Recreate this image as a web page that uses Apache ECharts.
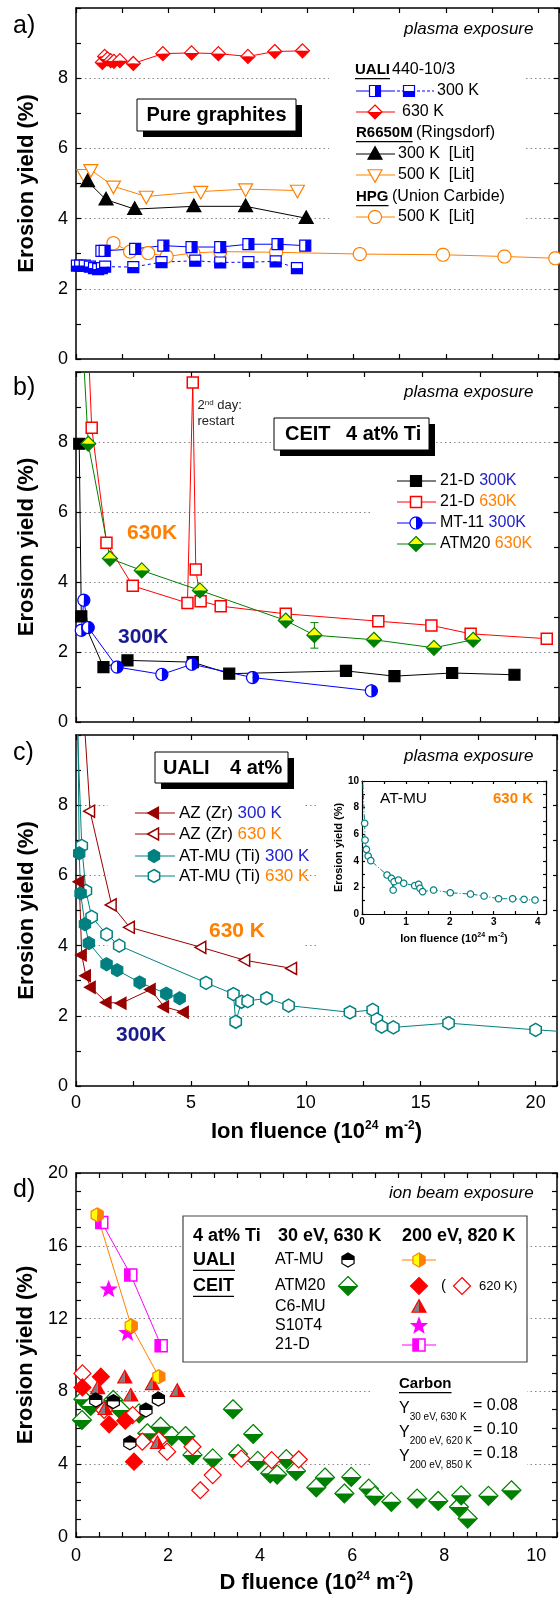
<!DOCTYPE html>
<html>
<head>
<meta charset="utf-8">
<script src="https://cdn.jsdelivr.net/npm/echarts@6/dist/echarts.min.js"></script>
<style>
  html, body { margin: 0; padding: 0; background: #fff; }
  #chart { width: 560px; height: 1598px; }
</style>
</head>
<body>
<div id="chart"></div>
<script>
// ---------- data (x = fluence, y = erosion yield %) ----------
// a) pure graphites
const aUali300Upper = [[0.55,3.08],[0.62,3.08],[1.28,3.14],[1.89,3.23],[2.50,3.19],[3.12,3.19],[3.73,3.27],[4.36,3.27],[4.96,3.23]];
const aUali300Lower = [[0.02,2.66],[0.09,2.66],[0.19,2.66],[0.30,2.63],[0.39,2.59],[0.48,2.56],[0.56,2.59],[0.63,2.63],[1.24,2.62],[1.85,2.76],[2.58,2.80],[3.12,2.75],[3.73,2.76],[4.32,2.78],[4.78,2.59]];
const aUali630 = [[0.57,8.45],[0.62,8.62],[0.68,8.55],[0.75,8.50],[0.82,8.48],[0.95,8.50],[1.24,8.42],[1.88,8.70],[2.50,8.72],[3.08,8.70],[3.72,8.62],[4.30,8.76],[4.90,8.78]];
const aR6650m300 = [[0.25,5.06],[0.65,4.54],[1.27,4.27],[2.55,4.35],[3.67,4.35],[4.98,4.01]];
const aR6650m500 = [[0.17,5.25],[0.32,5.39],[0.81,4.92],[1.52,4.63],[2.70,4.77],[3.67,4.84],[4.79,4.80]];
const aHpg500 = [[0.81,3.30],[1.17,3.06],[1.56,3.02],[1.96,2.92],[2.54,3.02],[3.12,3.06],[4.33,3.04],[6.14,2.99],[7.94,2.97],[9.27,2.92],[10.37,2.87]];

// b) CEIT 4 at% Ti
const b21d300 = [[0.14,7.95],[0.23,3.02],[1.19,1.57],[2.23,1.76],[5.06,1.71],[6.64,1.38],[11.7,1.46],[13.8,1.31],[16.3,1.40],[19.0,1.35]];
const b21d630 = [[0.55,10.5],[0.68,8.41],[1.32,5.12],[2.46,3.89],[4.83,3.40],[5.06,9.70],[5.19,4.36],[5.40,3.45],[6.27,3.31],[9.09,3.09],[13.1,2.88],[15.4,2.76],[17.1,2.52],[20.4,2.38]];
const bMt11300 = [[0.23,2.62],[0.34,3.48],[0.53,2.70],[1.78,1.57],[3.72,1.36],[5.02,1.65],[7.65,1.27],[12.8,0.89]];
const bAtm20630 = [[0.32,10.5],[0.53,7.95],[1.47,4.67],[2.85,4.33],[5.37,3.76],[9.09,2.90],[10.33,2.48],[12.91,2.35],[15.51,2.12],[17.21,2.35]];
const bAtm20Err = [[10.33,2.11,2.84]];

// c) UALI 4 at%
const cAz300 = [[0.14,5.82],[0.25,3.73],[0.43,3.14],[0.64,2.81],[1.33,2.38],[1.98,2.36],[3.25,2.75],[3.83,2.26],[4.69,2.10]];
const cAz630 = [[0.36,10.4],[0.61,7.83],[1.55,5.16],[2.34,4.52],[5.45,3.95],[7.36,3.58],[9.40,3.35]];
const cAtmu300 = [[0.08,10.4],[0.14,6.63],[0.20,5.49],[0.39,4.61],[0.56,4.07],[1.33,3.47],[1.79,3.30],[2.77,2.95],[3.93,2.63],[4.51,2.50]];
const cAtmu630 = [[0.05,10.4],[0.25,6.84],[0.43,5.56],[0.68,4.82],[1.33,4.32],[1.88,4.00],[5.66,2.94],[6.85,2.62],[6.95,1.83],[7.20,2.40],[7.47,2.42],[8.29,2.50],[9.25,2.29],[11.92,2.10],[12.91,2.17],[13.09,1.90],[13.30,1.69],[13.81,1.67],[16.21,1.79],[20.0,1.60],[21.2,1.55]];
// c) inset AT-MU 630 K
const insetAtmu = [[0.01,10.5],[0.06,6.82],[0.07,5.56],[0.10,4.86],[0.14,4.36],[0.20,4.01],[0.57,2.93],[0.67,2.68],[0.71,1.80],[0.73,2.43],[0.83,2.56],[0.95,2.31],[1.20,2.13],[1.29,2.23],[1.32,1.93],[1.38,1.68],[1.63,1.80],[2.01,1.60],[2.47,1.50],[2.78,1.35],[3.11,1.15],[3.43,1.15],[3.69,1.10],[3.94,1.05]];

// d) ion beam exposure
const dAtmu30 = [[0.43,7.53],[0.81,7.44],[1.17,5.18],[1.52,6.98],[1.79,7.58]];
const dAtmu200 = [[0.46,17.7],[1.20,11.6],[1.80,8.81]];
const d21d200 = [[0.56,17.28],[1.19,14.4],[1.85,10.51]];
const dS10t4 = [[0.71,13.6],[1.12,11.2]];
const dAtm20_30 = [[0.13,6.43],[0.16,7.57],[0.32,7.20],[0.81,7.53],[0.97,6.98],[1.37,6.79],[1.55,5.70],[1.84,6.06],[2.08,5.55],[2.38,5.55],[2.53,4.51],[2.97,4.32],[3.41,7.02],[3.52,4.56],[3.85,5.66],[3.95,4.18],[4.22,3.50],[4.37,3.43],[4.57,4.28],[4.78,3.63],[5.22,2.72],[5.41,3.27],[5.83,2.39],[5.98,3.30],[6.36,2.66],[6.49,2.26],[6.85,1.93],[7.41,2.11],[7.87,1.98],[8.32,1.65],[8.37,2.29],[8.51,1.01],[8.96,2.26],[9.46,2.57]];
const dAtm20_200 = [[0.14,8.22],[0.54,8.81],[0.72,6.19],[1.07,6.39],[1.26,4.14]];
const dAtm20_620 = [[0.14,8.99],[0.61,6.98],[1.23,6.70],[1.44,5.24],[1.80,5.33],[1.98,4.69],[2.53,4.96],[2.70,2.57],[2.97,3.40],[3.59,4.31],[4.25,4.22],[4.84,4.26]];
const dC6mu = [[0.47,8.17],[0.63,7.02],[1.06,8.75],[1.19,7.76],[1.66,8.39],[1.77,5.15],[2.20,8.02]];
const carbonYields = ['0.08', '0.10', '0.18'];

// ---------- helpers ----------
const FAM = "'Liberation Sans', Arial, sans-serif";
const C = {
  blue: '#0000ff', red: '#ff0000', orange: '#ff8000', green: '#008000', yellow: '#ffff00',
  dred: '#990000', teal: '#008080', mag: '#ff00ff', gray: '#808080', navy: '#1a1a90', lblue: '#2222cc'
};

function shapePts(shape, r) {
  const pts = [];
  if (shape === 'square') return [[-r,-r],[r,-r],[r,r],[-r,r]];
  if (shape === 'diamond') return [[0,-r],[r,0],[0,r],[-r,0]];
  if (shape === 'triUp') return [[0,-r*1.05],[r,r*0.75],[-r,r*0.75]];
  if (shape === 'triDown') return [[0,r*1.05],[r,-r*0.75],[-r,-r*0.75]];
  if (shape === 'triLeft') return [[-r*1.05,0],[r*0.75,-r],[r*0.75,r]];
  if (shape === 'hex') {
    for (let k = 0; k < 6; k++) { const a = (-90 + 60 * k) * Math.PI / 180; pts.push([r * Math.cos(a), r * Math.sin(a)]); }
    return pts;
  }
  if (shape === 'star') {
    for (let k = 0; k < 10; k++) { const a = (-90 + 36 * k) * Math.PI / 180; const rr = k % 2 ? r * 0.42 : r; pts.push([rr * Math.cos(a), rr * Math.sin(a)]); }
    return pts;
  }
  for (let k = 0; k < 36; k++) { const a = k * 10 * Math.PI / 180; pts.push([r * Math.cos(a), r * Math.sin(a)]); }
  return pts;
}

// keep one half of a polygon (Sutherland-Hodgman against x=0 or y=0)
function clipHalf(pts, side) {
  const f = {top: p => -p[1], bottom: p => p[1], left: p => -p[0], right: p => p[0]}[side];
  const out = [];
  for (let i = 0; i < pts.length; i++) {
    const a = pts[i], b = pts[(i + 1) % pts.length];
    const fa = f(a), fb = f(b);
    if (fa >= 0) out.push(a);
    if ((fa >= 0) !== (fb >= 0)) {
      const t = fa / (fa - fb);
      out.push([a[0] + t * (b[0] - a[0]), a[1] + t * (b[1] - a[1])]);
    }
  }
  return out;
}

function markerEls(s, cx, cy) {
  const base = shapePts(s.shape, s.r);
  const tr = pts => pts.map(p => [cx + p[0], cy + p[1]]);
  const els = [];
  if (s.split) {
    const sides = s.split === 'tb' ? ['top', 'bottom'] : ['left', 'right'];
    els.push({type: 'polygon', shape: {points: tr(clipHalf(base, sides[0]))}, style: {fill: s.fill[0], stroke: 'none'}});
    els.push({type: 'polygon', shape: {points: tr(clipHalf(base, sides[1]))}, style: {fill: s.fill[1], stroke: 'none'}});
    els.push({type: 'polygon', shape: {points: tr(base)}, style: {fill: 'none', stroke: s.stroke, lineWidth: s.lw || 1.2}});
  } else {
    els.push({type: 'polygon', shape: {points: tr(base)}, style: {fill: s.fill[0], stroke: s.stroke, lineWidth: s.lw || 1.2}});
  }
  return els;
}

// marker styles
const M = {
  aUpper: {shape: 'square', r: 5.5, stroke: C.blue, fill: ['#fff', C.blue], split: 'lr'},
  aLower: {shape: 'square', r: 5.5, stroke: C.blue, fill: ['#fff', C.blue], split: 'tb'},
  a630: {shape: 'diamond', r: 7, stroke: C.red, fill: ['#fff', C.red], split: 'tb'},
  aR300: {shape: 'triUp', r: 7, stroke: '#000', fill: ['#000']},
  aR500: {shape: 'triDown', r: 7, stroke: C.orange, fill: ['#fff']},
  aHpg: {shape: 'circle', r: 6.5, stroke: C.orange, fill: ['#fff']},
  b21d300: {shape: 'square', r: 5.5, stroke: '#000', fill: ['#000']},
  b21d630: {shape: 'square', r: 5.5, stroke: C.red, fill: ['#fff'], lw: 1.5},
  bMt11: {shape: 'circle', r: 6, stroke: C.blue, fill: ['#fff', C.blue], split: 'lr'},
  bAtm20: {shape: 'diamond', r: 7.5, stroke: C.green, fill: [C.yellow, C.green], split: 'tb'},
  cAz300: {shape: 'triLeft', r: 6, stroke: C.dred, fill: [C.dred]},
  cAz630: {shape: 'triLeft', r: 6, stroke: C.dred, fill: ['#fff'], lw: 1.5},
  cAtmu300: {shape: 'hex', r: 6.5, stroke: C.teal, fill: [C.teal]},
  cAtmu630: {shape: 'hex', r: 6.5, stroke: C.teal, fill: ['#fff'], lw: 1.5},
  inset: {shape: 'circle', r: 3.2, stroke: C.teal, fill: ['#fff']},
  dAtmu30: {shape: 'hex', r: 7, stroke: '#000', fill: ['#000', '#fff'], split: 'tb'},
  dAtmu200: {shape: 'hex', r: 7, stroke: C.orange, fill: [C.yellow, C.orange], split: 'lr'},
  d21d: {shape: 'square', r: 6, stroke: C.mag, fill: [C.mag, '#fff'], split: 'lr', lw: 1.5},
  dS10: {shape: 'star', r: 8, stroke: C.mag, fill: [C.mag]},
  dAtm20_30: {shape: 'diamond', r: 9.5, stroke: C.green, fill: ['#fff', C.green], split: 'tb'},
  dAtm20_200: {shape: 'diamond', r: 8.5, stroke: C.red, fill: [C.red]},
  dAtm20_620: {shape: 'diamond', r: 8.5, stroke: C.red, fill: ['#fff']},
  dC6: {shape: 'triUp', r: 7, stroke: C.red, fill: [C.gray, C.red], split: 'lr'}
};

// ---------- axes ----------
const grids = [
  {left: 76, top: 8, width: 483, height: 351},     // a
  {left: 76, top: 372, width: 483, height: 350},   // b
  {left: 76, top: 735, width: 483, height: 351},   // c
  {left: 362, top: 781, width: 184, height: 133},  // c inset
  {left: 76, top: 1173, width: 483, height: 364}   // d
];
const xAxes = [], yAxes = [];

function fmt(step, maxShown) {
  return function (v) {
    const r = v / step;
    if (Math.abs(r - Math.round(r)) > 1e-6 || v > maxShown + 1e-6) return '';
    return String(Math.round(v * 1000) / 1000);
  };
}

const bigName = {
  fontSize: 22, fontWeight: 'bold', fontFamily: FAM, color: '#000', lineHeight: 24,
  rich: {sup: {fontSize: 12, fontWeight: 'bold', fontFamily: FAM, color: '#000', verticalAlign: 'top'}}
};

function panelAxes(g, o) {
  const line = {show: true, onZero: false, lineStyle: {color: '#000', width: o.axisW || 1.5}};
  const tick = {show: true, inside: true, length: o.tickLen || 5, lineStyle: {color: '#000', width: 1.2}};
  const lab = (step, shown, margin) => ({formatter: fmt(step, shown), fontSize: o.fs || 18, fontWeight: o.fw || 'normal',
    fontFamily: FAM, color: '#000', margin: margin});
  const z = o.z || 0;
  const xi = xAxes.length, yi = yAxes.length;
  xAxes.push({gridIndex: g, type: 'value', position: 'bottom', min: 0, max: o.xmax, interval: o.xint, z: z,
    axisLine: line, axisTick: tick, splitLine: {show: false},
    axisLabel: o.xstep ? lab(o.xstep, o.xshow, o.xmargin || 8) : {show: false},
    name: o.xname || '', nameLocation: 'middle', nameGap: o.xgap || 34, nameTextStyle: o.xnameStyle || bigName});
  xAxes.push({gridIndex: g, type: 'value', position: 'top', min: 0, max: o.xmax, interval: o.xint, z: z,
    axisLine: line, axisTick: tick, splitLine: {show: false}, axisLabel: {show: false}});
  yAxes.push({gridIndex: g, type: 'value', position: 'left', min: 0, max: o.ymax, interval: o.yint, z: z,
    axisLine: line, axisTick: tick, splitLine: {show: false},
    axisLabel: lab(o.ystep, o.yshow, o.ymargin || 8),
    name: o.yname || 'Erosion yield (%)', nameLocation: 'middle', nameGap: o.ygap || 38,
    nameTextStyle: o.ynameStyle || {fontSize: 22, fontWeight: 'bold', fontFamily: FAM, color: '#000'}});
  yAxes.push({gridIndex: g, type: 'value', position: 'right', min: 0, max: o.ymax, interval: o.yint, z: z,
    axisLine: line, axisTick: tick, splitLine: {show: false}, axisLabel: {show: false}});
  if (o.gridStep) {
    yAxes.push({gridIndex: g, type: 'value', position: 'left', min: 0, max: o.ymax, interval: o.gridStep, z: 0,
      axisLine: {show: false}, axisTick: {show: false}, axisLabel: {show: false},
      splitLine: {show: true, showMinLine: false, showMaxLine: false, lineStyle: {color: '#8a8a8a', width: 1, type: [1.5, 3]}}});
  }
  return {xi: xi, yi: yi, xmax: o.xmax, ymax: o.ymax};
}

const axA = panelAxes(0, {xmax: 10.45, xint: 1, ymax: 10, yint: 1, ystep: 2, yshow: 9, gridStep: 2});
const axB = panelAxes(1, {xmax: 20.93, xint: 2.5, ymax: 10, yint: 1, ystep: 2, yshow: 9, gridStep: 2});
const axC = panelAxes(2, {xmax: 20.93, xint: 2.5, xstep: 5, xshow: 20, ymax: 10, yint: 1, ystep: 2, yshow: 9, gridStep: 2,
  xname: 'Ion fluence (10{sup|24} m{sup|-2})', xgap: 34});
const axI = panelAxes(3, {xmax: 4.19, xint: 0.5, xstep: 1, xshow: 4, ymax: 10, yint: 1, ystep: 2, yshow: 10,
  fs: 10, fw: 'bold', tickLen: 3, axisW: 1.2, z: 2, xmargin: 3, ymargin: 3,
  xname: 'Ion fluence (10{sup|24} m{sup|-2})', xgap: 18,
  xnameStyle: {fontSize: 11, fontWeight: 'bold', fontFamily: FAM, color: '#000', lineHeight: 13,
    rich: {sup: {fontSize: 7, fontWeight: 'bold', fontFamily: FAM, color: '#000', verticalAlign: 'top'}}},
  ygap: 17, ynameStyle: {fontSize: 11, fontWeight: 'bold', fontFamily: FAM, color: '#000'}});
const axD = panelAxes(4, {xmax: 10.45, xint: 0.5, xstep: 2, xshow: 10, ymax: 20, yint: 1, ystep: 4, yshow: 20, gridStep: 4,
  xmargin: 10, xname: 'D fluence (10{sup|24} m{sup|-2})', xgap: 34});

// ---------- series ----------
const series = [];
function addLine(ax, data, color, type) {
  series.push({type: 'line', xAxisIndex: ax.xi, yAxisIndex: ax.yi, data: data, symbol: 'none', z: ax === axI ? 5 : 3,
    silent: true, animation: false, lineStyle: {color: color, width: 1, type: type || 'solid'}});
}
function addMarks(ax, data, spec) {
  series.push({type: 'custom', xAxisIndex: ax.xi, yAxisIndex: ax.yi, z: ax === axI ? 6 : 4, silent: true, animation: false,
    data: data, encode: {x: 0, y: 1},
    renderItem: function (params, api) {
      const x = api.value(0), y = api.value(1);
      if (x < 0 || x > ax.xmax || y < 0 || y > ax.ymax) return null;
      const p = api.coord([x, y]);
      return {type: 'group', children: markerEls(spec, p[0], p[1])};
    }});
}
function addSeries(ax, data, spec, color, type) {
  if (color) addLine(ax, data, color, type);
  addMarks(ax, data, spec);
}

// a
addSeries(axA, aHpg500, M.aHpg, C.orange);
addSeries(axA, aR6650m500, M.aR500, C.orange);
addSeries(axA, aR6650m300, M.aR300, '#000');
addSeries(axA, aUali300Lower, M.aLower, C.blue, [3, 3]);
addSeries(axA, aUali300Upper, M.aUpper, C.blue);
addSeries(axA, aUali630, M.a630, C.red);
// b
addSeries(axB, b21d300, M.b21d300, '#000');
addSeries(axB, b21d630, M.b21d630, C.red);
addSeries(axB, bMt11300, M.bMt11, C.blue);
series.push({type: 'custom', xAxisIndex: axB.xi, yAxisIndex: axB.yi, z: 3, silent: true, animation: false,
  data: bAtm20Err, encode: {x: 0, y: [1, 2]},
  renderItem: function (params, api) {
    const lo = api.coord([api.value(0), api.value(1)]), hi = api.coord([api.value(0), api.value(2)]);
    const st = {stroke: C.green, lineWidth: 1};
    return {type: 'group', children: [
      {type: 'line', shape: {x1: lo[0], y1: lo[1], x2: hi[0], y2: hi[1]}, style: st},
      {type: 'line', shape: {x1: lo[0] - 4, y1: lo[1], x2: lo[0] + 4, y2: lo[1]}, style: st},
      {type: 'line', shape: {x1: hi[0] - 4, y1: hi[1], x2: hi[0] + 4, y2: hi[1]}, style: st}
    ]};
  }});
addSeries(axB, bAtm20630, M.bAtm20, C.green);
// c
addSeries(axC, cAtmu630, M.cAtmu630, C.teal);
addSeries(axC, cAtmu300, M.cAtmu300, C.teal);
addSeries(axC, cAz630, M.cAz630, C.dred);
addSeries(axC, cAz300, M.cAz300, C.dred);
addSeries(axI, insetAtmu, M.inset, C.teal, [5, 2, 1, 2]);
// d
addMarks(axD, dAtm20_30, M.dAtm20_30);
addMarks(axD, dAtm20_620, M.dAtm20_620);
addMarks(axD, dAtm20_200, M.dAtm20_200);
addMarks(axD, dC6mu, M.dC6);
addMarks(axD, dAtmu30, M.dAtmu30);
addMarks(axD, dS10t4, M.dS10);
addSeries(axD, d21d200, M.d21d, C.mag);
addSeries(axD, dAtmu200, M.dAtmu200, C.orange);

// ---------- texts, legends, boxes ----------
const G = [];
const mctx = document.createElement('canvas').getContext('2d');
function tw(text, size, weight) {
  mctx.font = (weight || 'normal') + ' ' + size + 'px ' + FAM;
  return mctx.measureText(text).width;
}
function txt(x, y, text, o) {
  o = o || {};
  const st = {text: text, fontSize: o.size || 16, fontWeight: o.weight || 'normal', fontStyle: o.style || 'normal',
    fontFamily: FAM, fill: o.color || '#000', align: o.align || 'left', verticalAlign: 'middle',
    textAlign: o.align || 'left', textVerticalAlign: 'middle'};
  if (o.rich) st.rich = o.rich;
  G.push({type: 'text', x: x, y: y, z: 30, style: st});
}
function utxt(x, y, text, size) {
  txt(x, y, text, {size: size, weight: 'bold'});
  const w = tw(text, size, 'bold');
  G.push({type: 'line', z: 30, shape: {x1: x, y1: y + size * 0.58, x2: x + w, y2: y + size * 0.58}, style: {stroke: '#000', lineWidth: 1.3}});
}
function mask(x1, y1, x2, y2) {
  G.push({type: 'rect', z: 1, shape: {x: x1, y: y1, width: x2 - x1, height: y2 - y1}, style: {fill: '#fff'}});
}
function shadowBox(x1, y1, x2, y2) {
  G.push({type: 'rect', z: 20, shape: {x: x1 + 6, y: y1 + 6, width: x2 - x1, height: y2 - y1}, style: {fill: '#000'}});
  G.push({type: 'rect', z: 21, shape: {x: x1, y: y1, width: x2 - x1, height: y2 - y1}, style: {fill: '#fff', stroke: '#000', lineWidth: 1}});
}
function legLine(x1, x2, y, color, dash) {
  G.push({type: 'line', z: 30, shape: {x1: x1, y1: y, x2: x2, y2: y}, style: {stroke: color, lineWidth: 1, lineDash: dash || null}});
}
function legMark(spec, x, y) {
  markerEls(spec, x, y).forEach(e => { e.z = 31; G.push(e); });
}

// masks hiding the dotted grid behind legends
mask(329, 55, 525, 228);
mask(370, 465, 553, 556);
mask(108, 795, 304, 955);
mask(316, 745, 553, 955);
mask(373, 1368, 527, 1475);

// panel letters and exposure notes
[['a)', 26], ['b)', 388], ['c)', 753], ['d)', 1190]].forEach(p => txt(13, p[1], p[0], {size: 25}));
txt(404, 29, 'plasma exposure', {size: 17, style: 'italic'});
txt(404, 392, 'plasma exposure', {size: 17, style: 'italic'});
txt(404, 756, 'plasma exposure', {size: 17, style: 'italic'});
txt(389, 1193, 'ion beam exposure', {size: 17, style: 'italic'});

// a) box + legend
shadowBox(137, 99, 296, 131);
txt(216.5, 115, 'Pure graphites', {size: 20, weight: 'bold', align: 'center'});
utxt(355, 70, 'UALI', 15);
txt(392, 70, '440-10/3', {size: 16});
legLine(356, 392, 91, C.blue);
legLine(392, 434, 91, C.blue, [3, 2]);
legMark(M.aUpper, 375, 91);
legMark(M.aLower, 409, 91);
txt(437, 91, '300 K', {size: 16});
legLine(356, 395, 112, C.red);
legMark(M.a630, 375, 112);
txt(402, 112, '630 K', {size: 16});
utxt(356, 133, 'R6650M', 15);
txt(416, 133, '(Ringsdorf)', {size: 16});
legLine(356, 395, 154, '#000');
legMark(M.aR300, 375, 154);
txt(398, 154, '300 K  [Lit]', {size: 16});
legLine(356, 395, 175, C.orange);
legMark(M.aR500, 375, 175);
txt(398, 175, '500 K  [Lit]', {size: 16});
utxt(356, 197, 'HPG', 15);
txt(392, 197, '(Union Carbide)', {size: 16});
legLine(356, 395, 217, C.orange);
legMark(M.aHpg, 375, 217);
txt(398, 217, '500 K  [Lit]', {size: 16});

// b) annotations + legend
const supRich = {s: {fontSize: 8, fontFamily: FAM, fill: '#222', verticalAlign: 'top'}};
txt(197.5, 405, '2{s|nd} day:', {size: 13, color: '#222', rich: supRich});
txt(197.5, 421, 'restart', {size: 13, color: '#222'});
shadowBox(274, 418, 429, 450);
txt(285, 434, 'CEIT', {size: 20, weight: 'bold'});
txt(346, 434, '4 at% Ti', {size: 20, weight: 'bold'});
txt(127, 533, '630K', {size: 21, weight: 'bold', color: C.orange});
txt(118, 637, '300K', {size: 21, weight: 'bold', color: C.navy});
const colRich = {
  bl: {fontSize: 16, fontFamily: FAM, fill: C.lblue},
  or: {fontSize: 16, fontFamily: FAM, fill: C.orange}
};
[[481, M.b21d300, '#000', '21-D {bl|300K}'], [502, M.b21d630, C.red, '21-D {or|630K}'],
 [523, M.bMt11, C.blue, 'MT-11 {bl|300K}'], [544, M.bAtm20, C.green, 'ATM20 {or|630K}']].forEach(r => {
  legLine(397, 436, r[0], r[2]);
  legMark(r[1], 416, r[0]);
  txt(440, r[0], r[3], {size: 16, rich: colRich});
});

// c) box + legend + labels
shadowBox(155, 752, 288, 783);
txt(163, 768, 'UALI', {size: 20, weight: 'bold'});
txt(230, 768, '4 at%', {size: 20, weight: 'bold'});
const colRich17 = {
  bl: {fontSize: 17, fontFamily: FAM, fill: C.lblue},
  or: {fontSize: 17, fontFamily: FAM, fill: C.orange}
};
[[813, M.cAz300, C.dred, 'AZ (Zr) {bl|300 K}'], [834, M.cAz630, C.dred, 'AZ (Zr) {or|630 K}'],
 [856, M.cAtmu300, C.teal, 'AT-MU (Ti) {bl|300 K}'], [876, M.cAtmu630, C.teal, 'AT-MU (Ti) {or|630 K}']].forEach(r => {
  legLine(135, 175, r[0], r[2]);
  legMark(r[1], 154, r[0]);
  txt(179, r[0], r[3], {size: 17, rich: colRich17});
});
txt(209, 931, '630 K', {size: 21, weight: 'bold', color: C.orange});
txt(116, 1035, '300K', {size: 21, weight: 'bold', color: C.navy});
txt(380, 799, 'AT-MU', {size: 15.5});
txt(493, 799, '630 K', {size: 15, weight: 'bold', color: C.orange});

// d) legend box
G.push({type: 'rect', z: 5, shape: {x: 183, y: 1216, width: 344, height: 146}, style: {fill: '#fff', stroke: '#444', lineWidth: 1.2}});
txt(193, 1236, '4 at% Ti', {size: 18, weight: 'bold'});
txt(278, 1236, '30 eV, 630 K', {size: 18, weight: 'bold'});
txt(402, 1236, '200 eV, 820 K', {size: 18, weight: 'bold'});
utxt(193, 1260, 'UALI', 18);
txt(275, 1260, 'AT-MU', {size: 16});
legMark(M.dAtmu30, 348, 1260);
legLine(402, 436, 1260, C.orange);
legMark(M.dAtmu200, 419, 1260);
utxt(193, 1286, 'CEIT', 18);
txt(275, 1286, 'ATM20', {size: 16});
legMark(M.dAtm20_30, 348, 1286);
legMark(M.dAtm20_200, 419, 1286);
txt(441, 1286, '(', {size: 15});
legMark(M.dAtm20_620, 462, 1286);
txt(479, 1286, '620 K)', {size: 13});
txt(275, 1307, 'C6-MU', {size: 16});
legMark(M.dC6, 419, 1307);
txt(275, 1326, 'S10T4', {size: 16});
legMark(M.dS10, 419, 1326);
txt(275, 1345, '21-D', {size: 16});
legLine(402, 436, 1345, C.mag);
legMark(M.d21d, 419, 1345);

// d) carbon reference yields
utxt(399, 1384, 'Carbon', 15);
const subRich = {
  y: {fontSize: 16, fontFamily: FAM, fill: '#000', lineHeight: 26},
  s: {fontSize: 10, fontFamily: FAM, fill: '#000', verticalAlign: 'bottom'}
};
const carbonSubs = ['30 eV, 630 K', '200 eV, 620 K', '200 eV, 850 K'];
[1406, 1430, 1454].forEach((y, i) => {
  txt(399, y + 3, '{y|Y}{s|' + carbonSubs[i] + '}', {size: 16, rich: subRich});
  txt(473, y, '= ' + carbonYields[i], {size: 16});
});

// ---------- chart ----------
const chart = echarts.init(document.getElementById('chart'), null, {renderer: 'canvas'});
chart.setOption({
  animation: false,
  backgroundColor: '#fff',
  grid: grids,
  xAxis: xAxes,
  yAxis: yAxes,
  series: series,
  graphic: {elements: G}
});
</script>
</body>
</html>
